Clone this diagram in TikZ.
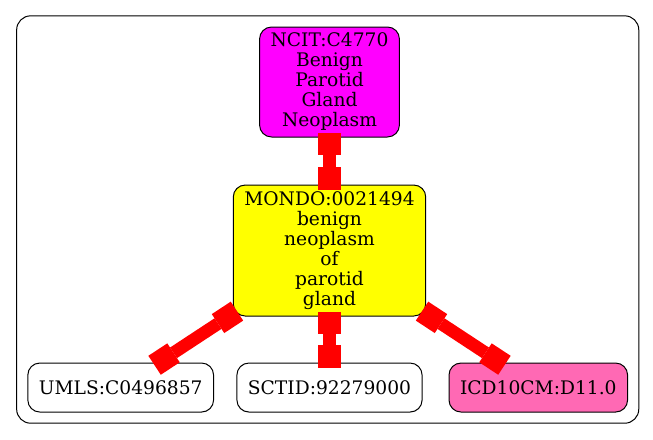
\documentclass[tikz,border=0pt]{standalone}
\usepackage{fontspec}
\setmainfont{DejaVu Serif}
\usetikzlibrary{arrows.meta,fit}
\definecolor{ncitpink}{HTML}{FF00FF}
\definecolor{mondoyellow}{HTML}{FFFF00}
\definecolor{hotpink}{HTML}{FF69B4}
\begin{document}
\begin{tikzpicture}[x=0.75pt,y=0.75pt,
  every node/.style={font=\fontsize{14}{15}\selectfont},
  term/.style={draw=black, line width=0.75pt, rounded corners=9pt, align=center, inner xsep=8.25pt, inner ysep=2pt},
  leaf/.style={term, minimum height=36.75pt}]
  \useasboundingbox (0,0) rectangle (653,-439);
  \tikzstyle{level 1}=[level distance=126.4pt]
  \tikzstyle{level 2}=[level distance=102.75pt, sibling distance=156.6pt]
  \tikzstyle{edge from parent}=[draw=red, line width=9.5pt, {Square[length=17pt,width=17pt,line width=0pt]}-{Square[length=17pt,width=17pt,line width=0pt]}, shorten <=-3.75pt, shorten >=-3.75pt]
  \node[term, fill=ncitpink, minimum height=82.5pt] (ncit) at (329.5,-82) {NCIT:C4770\\Benign\\Parotid\\Gland\\Neoplasm}
  child {node[term, fill=mondoyellow, minimum height=98.25pt] (mondo) {MONDO:0021494\\benign\\neoplasm\\of\\parotid\\gland}
    child {node[leaf] (umls) {UMLS:C0496857}}
    child {node[leaf] (sctid) {SCTID:92279000}}
    child {node[leaf, fill=hotpink] (icd) {ICD10CM:D11.0}}};
  \node[fit=(ncit)(umls)(icd), draw=black, line width=0.75pt, rounded corners=10.5pt, inner sep=8pt] (cluster) {};
\end{tikzpicture}
\end{document}
